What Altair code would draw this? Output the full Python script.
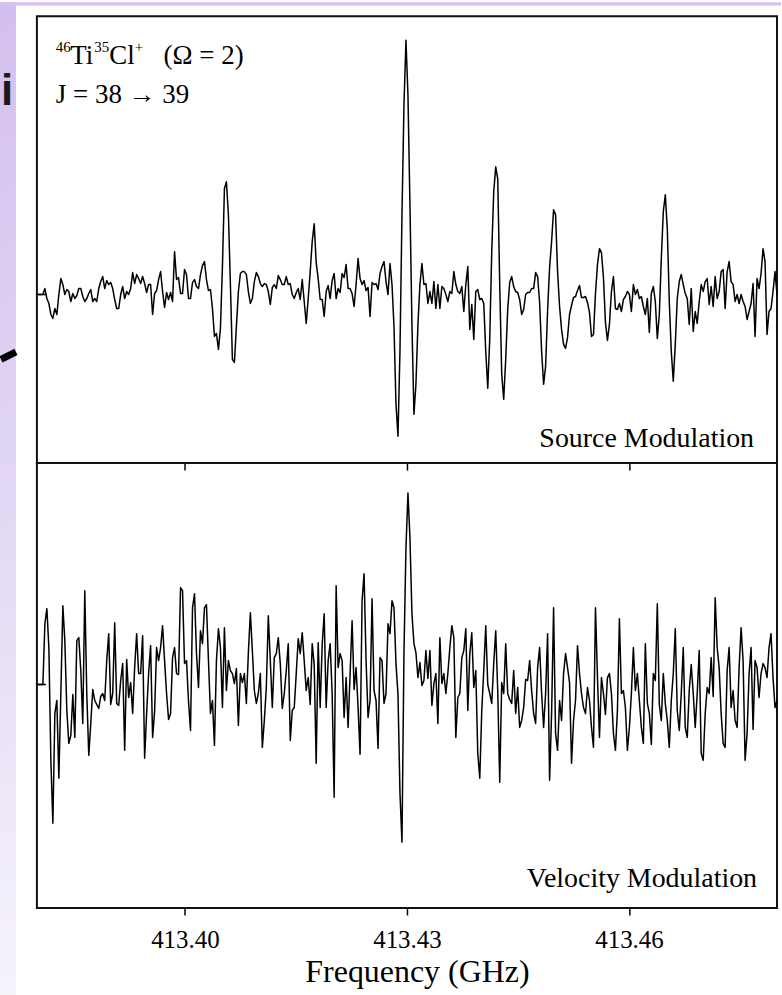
import altair as alt
import numpy as np
import pandas as pd

SERIF = "Liberation Serif"

# ---- data -----------------------------------------------------------------
FREQ_START = 413.38   # GHz, first sample
FREQ_STOP = 413.48    # GHz, last sample
TICKS = [413.40, 413.43, 413.46]

# Source-modulation spectrum (arb. units), uniformly sampled
source_mod = [
    0, 0, 0, 0, 6, -4, -9, -20, -24, -14,
    -20, 0, 16, 10, 0, 5, 3, -7, 1, -4,
    -1, 6, 6, -2, -7, -4, 1, 5, -7, -4,
    -7, 6, 13, 18, 6, 14, 10, 12, 6, -5,
    -14, -14, 0, 8, -4, 3, 0, 6, 22, 11,
    20, 16, 11, 18, 11, 2, 10, 10, -20, 1,
    4, 15, 23, 3, -13, 2, -5, 2, -7, 43,
    15, 17, 1, 1, 25, 20, -4, -4, 12, 15,
    8, 6, 20, 29, 33, 15, 4, 5, -14, -42,
    -39, -55, -34, 28, 106, 113, 80, 10, -65, -68,
    -32, 3, 21, 23, 23, 20, 3, -9, -4, 13,
    22, 18, 11, 8, 11, 10, 3, -10, 7, 10,
    6, 19, 15, 10, 10, 18, 10, 11, 0, -4,
    2, 6, -5, 15, -7, -29, -4, 23, 53, 71,
    32, 16, -5, -5, -22, 3, 9, -4, 14, 21,
    -4, 6, 2, 21, 17, 30, 6, 6, 1, -12,
    10, 36, 16, 10, 14, 4, 7, -22, 12, 10,
    11, 5, 21, 28, 33, 13, 0, 31, 10, -32,
    -110, -142, -56, 80, 190, 255, 200, 90, -30, -120,
    -90, -30, 10, 31, 10, 11, -9, 3, -9, 13,
    -14, 10, -14, 8, 6, 0, -7, 3, 1, 23,
    10, 3, 1, 8, -17, 10, 28, -35, -10, -45,
    3, 5, -5, -4, -9, -57, -94, -44, 43, 103,
    128, 116, 10, -80, -105, -65, -15, 12, 18, 8,
    3, 2, -5, -20, -15, 0, 2, 2, 6, 6,
    22, 18, -8, -57, -90, -72, -16, 27, 53, 85,
    80, 23, -12, -35, -50, -54, -43, -20, -11, -3,
    -2, 4, 9, -3, -3, -2, -8, -18, -42, -40,
    1, 30, 46, 42, 17, -28, -46, -30, 3, 18,
    -14, -15, -9, -17, -5, -2, 3, 0, -17, 10,
    0, 5, -4, -2, -12, -20, -4, -38, 1, 8,
    -7, -44, -20, 36, 83, 100, 66, -7, -57, -87,
    -50, -4, 13, 20, 10, 1, -4, -30, 6, -37,
    -17, -29, -7, 10, 3, 13, 16, -10, 8, -12,
    18, -4, 3, 23, 25, -14, 23, 33, 13, 10,
    -7, 0, -9, 0, -7, -12, -25, -17, -9, 11,
    -42, 16, 6, 21, 46, 33, -40, -17, -14, 3,
    23, 0,
]

# Velocity-modulation spectrum (arb. units), same frequency grid
velocity_mod = [
    0, 0, 0, 0, 61, 76, 37, -76, -139, -29,
    -16, -94, -9, 79, 44, -26, -59, -51, -10, -53,
    44, 47, 14, -39, 94, -9, -71, -39, -5, -16,
    -20, -24, -12, -9, -16, 24, 51, -20, -9, 62,
    -19, -21, 4, 21, -66, 25, -13, 2, -29, 17,
    51, 11, 11, 49, -74, -29, 11, 39, -53, -27,
    37, 24, 37, 59, 24, -9, -35, -29, 27, 37,
    11, 10, 97, 94, 21, 24, -17, -46, 77, 91,
    31, -3, 54, 41, 77, 80, 24, -29, -16, -61,
    24, 56, 37, -23, 57, -6, 24, 14, 11, 1,
    16, -41, 11, 2, 11, -19, 32, 72, 34, -6,
    -19, -9, 11, -63, -36, -3, 69, 24, -23, 27,
    31, 47, 21, -24, -9, 14, 41, -56, -26, -23,
    11, 46, 31, 52, 24, -6, 7, -20, 41, 20,
    -79, 42, -23, 40, 71, -23, 24, 41, -9, -113,
    99, 17, 31, 24, -33, 7, -43, 11, 64, -5,
    17, -23, -70, 84, 111, 24, -33, -16, 86, -6,
    -16, -64, 27, 24, -19, -9, 61, 51, 84, 77,
    21, -10, -109, -158, 32, 137, 192, 147, 71, 41,
    32, 7, 22, -1, 4, 34, 6, 34, -21, 1,
    11, -39, 47, 1, 11, -9, 11, 37, 59, 47,
    -53, -13, -9, 27, 34, 56, -26, 31, 52, -3,
    14, -69, -94, -26, 14, 59, 0, -9, -19, 21,
    54, -6, -98, 2, -9, 41, -9, -15, -19, 14,
    -29, -3, -43, -36, -23, 5, 4, 24, -6, -29,
    -39, 17, 37, -9, -43, -9, 51, -96, -29, 77,
    -49, -66, -16, -36, 11, 31, 17, 2, -79, -36,
    -16, 39, 11, -9, -23, -29, -3, -16, -43, -63,
    77, 7, -53, 7, -9, -30, 7, 11, -9, -49,
    -66, -26, 66, -9, -6, -23, -66, -43, -9, 37,
    -6, 11, -16, -43, -59, 41, -19, -29, -60, 11,
    4, 81, -20, -36, 11, -19, -36, -63, -16, 11,
    56, -26, -46, -9, 37, -43, -53, -6, 20, -9,
    -43, -9, 34, -69, -76, -29, -3, -9, 27, -12,
    87, 37, 17, -29, -59, -63, 14, 37, -23, -6,
    -36, -43, 17, 57, 24, -76, -49, 11, 37, -45,
    24, 17, -13, 11, 21, 17, 7, 37, 51, 7,
    -23, -16,
]

TOP_RANGE = [-169, 279]
BOTTOM_RANGE = [-224, 222]


def spectrum(values):
    freq = np.linspace(FREQ_START, FREQ_STOP, len(values))
    return pd.DataFrame({"freq": freq, "signal": values})


dummy = pd.DataFrame({"k": [0]})
W, H_TOP, H_BOT = 742, 448, 446
OX = 36      # left offset of the figure box inside the page
BLEED = 14   # decoration drawn past the page's left edge (cut off by padding)
xscale = alt.Scale(domain=[FREQ_START, FREQ_STOP], nice=False, zero=False)

axis_common = dict(values=TICKS, ticks=True, tickSize=7, tickWidth=1.5,
                   tickColor="black", domain=False, grid=False, zindex=1)
top_axis = alt.Axis(labels=False, title=None, **axis_common)
bot_axis = alt.Axis(format=".2f", labelFont=SERIF, labelFontSize=25,
                    labelColor="black", labelPadding=13,
                    title="Frequency (GHz)", titleFont=SERIF, titleFontSize=32,
                    titleFontWeight="normal", titleColor="black",
                    titlePadding=4, titleX=381, **axis_common)


def text(t, x, y, size, align="left", font=SERIF, weight="normal", color="black"):
    return alt.Chart(dummy).mark_text(
        text=t, font=font, fontSize=size, align=align, baseline="alphabetic",
        fontWeight=weight, color=color,
    ).encode(x=alt.value(x), y=alt.value(y))


def panel(values, yrange, axis):
    line = alt.Chart(spectrum(values)).mark_line(
        color="black", strokeWidth=1.5, strokeJoin="round"
    ).encode(
        x=alt.X("freq:Q", scale=xscale, axis=axis),
        y=alt.Y("signal:Q", scale=alt.Scale(domain=yrange, nice=False, zero=False), axis=None),
    )
    zero_tick = alt.Chart(dummy).mark_rule(color="black", strokeWidth=1.5).encode(
        y=alt.datum(0), x=alt.value(0), x2=alt.value(9)
    )
    return line, zero_tick


# slide background decoration (outside the figure box)
strip_left = alt.Chart(dummy).mark_rect(
    fill=alt.LinearGradient(
        gradient="linear", x1=0, x2=0, y1=0, y2=1,
        stops=[alt.GradientStop(color="#d3bfee", offset=0),
               alt.GradientStop(color="#e2d7f4", offset=0.5),
               alt.GradientStop(color="#f6f3fc", offset=1)],
    )
).encode(x=alt.value(-OX - BLEED), x2=alt.value(15 - OX), y=alt.value(-14), y2=alt.value(981))
strip_top = alt.Chart(dummy).mark_rect(fill="#d4c1ef").encode(
    x=alt.value(-OX - BLEED), x2=alt.value(782 - OX), y=alt.value(-14), y2=alt.value(-10.7)
)
slash = alt.Chart(dummy).mark_rule(color="black", strokeWidth=7).encode(
    x=alt.value(-OX), x2=alt.value(15 - OX), y=alt.value(344), y2=alt.value(336.5)
)
letter = text("i", 6 - OX, 89, 44, align="center", font="Liberation Sans",
              weight="bold", color="#1a1a1a")

top_line, top_tick = panel(source_mod, TOP_RANGE, top_axis)
top = alt.layer(
    strip_left, strip_top, slash, letter,
    top_line, top_tick,
    text("46", 19, 35.5, 15),
    text("Ti", 33.5, 48, 27),
    text("35", 57.5, 35.5, 15),
    text("Cl", 72.5, 48, 27),
    text("+", 98, 36, 15),
    text("(\u03a9 = 2)", 127, 48, 27),
    text("J = 38 \u2192 39", 19, 87, 27),
    text("Source Modulation", 719, 432, 28, align="right"),
).properties(width=W, height=H_TOP)

bot_line, bot_tick = panel(velocity_mod, BOTTOM_RANGE, bot_axis)
bottom = alt.layer(
    bot_line, bot_tick,
    text("Velocity Modulation", 722, 425, 28, align="right"),
).properties(width=W, height=H_BOT)

# the left strip starts BLEED px before the page edge; negative padding trims it
chart = alt.vconcat(top, bottom, spacing=0, bounds="flush").properties(
    padding={"left": -BLEED, "top": 0, "right": 0, "bottom": 0},
    background="white",
).configure_view(stroke="#111111", strokeWidth=2)

chart.save("out.html", embed_options={"renderer": "svg", "actions": False})
